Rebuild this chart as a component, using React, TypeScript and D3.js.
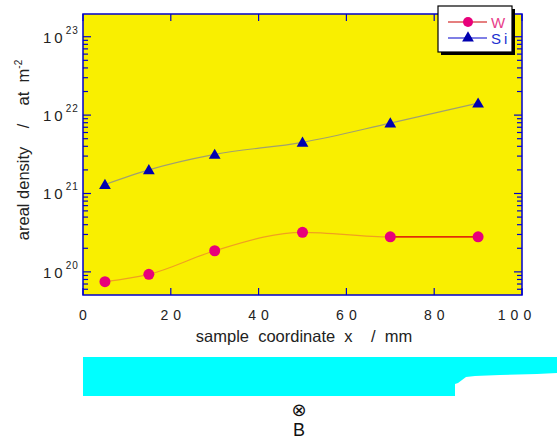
import React from "react";
import * as d3 from "d3";

const width = 557;
const height = 441;

const xTicks = [0, 20, 40, 60, 80, 100];
const yDecades = [20, 21, 22, 23];

const positions = [5, 15, 30, 50, 70, 90];
const wValues = [7.5e19, 9.3e19, 1.86e20, 3.2e20, 2.8e20, 2.8e20];
const siValues = [1.3e21, 2.0e21, 3.15e21, 4.5e21, 7.9e21, 1.42e22];

const left = 83;
const right = 522;
const top = 14;
const bottom = 295;

const font = "'Liberation Sans', Arial, sans-serif";
const frameColor = "#0000cc";

export default function App() {
  const x = d3.scaleLinear().domain([0, 100]).range([left, right]);
  const y = d3
    .scaleLog()
    .domain([Math.pow(10, 19.705), Math.pow(10, 23.29)])
    .range([bottom, top]);

  const line = d3
    .line<number>()
    .x((d, i) => x(positions[i]))
    .curve(d3.curveMonotoneX);

  const wPath = line.y((d) => y(d))(wValues);
  const siPath = line.y((d) => y(d))(siValues);

  // minor ticks for log axis
  const minor: number[] = [];
  for (let e = 19; e <= 23; e++) {
    for (let m = 2; m <= 9; m++) {
      const v = m * Math.pow(10, e);
      if (v > y.domain()[0] && v < y.domain()[1]) minor.push(v);
    }
  }

  const tri = d3.symbol().type(d3.symbolTriangle).size(60)();

  return (
    <svg width={width} height={height} style={{ position: "absolute", left: 0, top: 0 }}>
      <rect x={0} y={0} width={width} height={height} fill="#fff" />
      <rect x={left} y={top} width={right - left} height={bottom - top} fill="#f9ef00" />

      {/* lines */}
      <path d={wPath || ""} fill="none" stroke="#f0a020" strokeWidth={1.2} />
      <line x1={x(70)} x2={x(90)} y1={y(wValues[4])} y2={y(wValues[5])} stroke="#dd0000" strokeWidth={1.2} />
      <path d={siPath || ""} fill="none" stroke="#a0a070" strokeWidth={1.2} />

      {wValues.map((v, i) => (
        <circle key={"w" + i} cx={x(positions[i])} cy={y(v)} r={5.5} fill="#e8007a" />
      ))}
      {siValues.map((v, i) => (
        <path key={"s" + i} d={tri || ""} transform={`translate(${x(positions[i])},${y(v) + 1})`} fill="#0000b0" />
      ))}

      {/* frame */}
      <rect x={left} y={top} width={right - left} height={bottom - top} fill="none" stroke={frameColor} strokeWidth={1.5} />

      {/* x ticks */}
      {xTicks.map((t) => (
        <g key={"xt" + t}>
          <line x1={x(t)} x2={x(t)} y1={bottom} y2={bottom - 7} stroke={frameColor} strokeWidth={1.2} />
          <line x1={x(t)} x2={x(t)} y1={top} y2={top + 7} stroke={frameColor} strokeWidth={1.2} />
          <text
            x={x(t) + (t >= 100 ? -5 : 2.5)}
            y={320}
            textAnchor="middle"
            fontFamily={font}
            fontSize={14}
            letterSpacing={5}
            fill="#222"
          >
            {t}
          </text>
        </g>
      ))}

      {/* y ticks */}
      {yDecades.map((e) => {
        const yy = y(Math.pow(10, e));
        return (
          <g key={"yt" + e}>
            <line x1={left} x2={left + 8} y1={yy} y2={yy} stroke={frameColor} strokeWidth={1.2} />
            <line x1={right} x2={right - 8} y1={yy} y2={yy} stroke={frameColor} strokeWidth={1.2} />
            <text x={43} y={yy + 6} fontFamily={font} fontSize={15} letterSpacing={3} fill="#222">
              10
              <tspan dy={-9} fontSize={10} letterSpacing={1}>
                {e}
              </tspan>
            </text>
          </g>
        );
      })}
      {minor.map((v, i) => (
        <g key={"ym" + i}>
          <line x1={left} x2={left + 5} y1={y(v)} y2={y(v)} stroke={frameColor} strokeWidth={1.2} />
          <line x1={right} x2={right - 5} y1={y(v)} y2={y(v)} stroke={frameColor} strokeWidth={1.2} />
        </g>
      ))}

      {/* axis titles */}
      <text x={304} y={342} textAnchor="middle" fontFamily={font} fontSize={16.5} fill="#222" xmlSpace="preserve">
        {"sample  coordinate  x    /  mm"}
      </text>
      <text
        transform="translate(29,150) rotate(-90)"
        textAnchor="middle"
        fontFamily={font}
        fontSize={16.5}
        fill="#222"
        xmlSpace="preserve"
      >
        {"areal density    /    at  m"}
        <tspan dy={-7} fontSize={10}>-2</tspan>
      </text>

      {/* legend */}
      <rect x={441} y={9} width={74} height={46} fill="#000" />
      <rect x={438} y={6} width={74} height={46} fill="#fff" stroke="#000" strokeWidth={1.2} />
      <line x1={448} x2={487} y1={22} y2={22} stroke="#cc0000" strokeWidth={1.2} />
      <circle cx={468} cy={22} r={5} fill="#e8007a" />
      <text x={491} y={28} fontFamily={font} fontSize={15} fill="#e8408a">W</text>
      <line x1={448} x2={487} y1={38} y2={38} stroke="#0000cc" strokeWidth={1.2} />
      <path d={tri || ""} transform="translate(468,38)" fill="#0000b0" />
      <text x={491} y={44} fontFamily={font} fontSize={15} fill="#2030d0" letterSpacing={3}>Si</text>

      {/* cyan sample outline */}
      <path
        d="M83,357 H557 V373 L537,374 L500,375 L475,376 L466,377 L462,380 L458,383 L455,384 V396 H83 Z"
        fill="#00ffff"
      />
      <text x={299} y={416} textAnchor="middle" fontFamily="'DejaVu Sans', sans-serif" fontSize={18} fill="#111">⊗</text>
      <text x={299} y={436} textAnchor="middle" fontFamily={font} fontSize={18} fill="#111">B</text>
    </svg>
  );
}
